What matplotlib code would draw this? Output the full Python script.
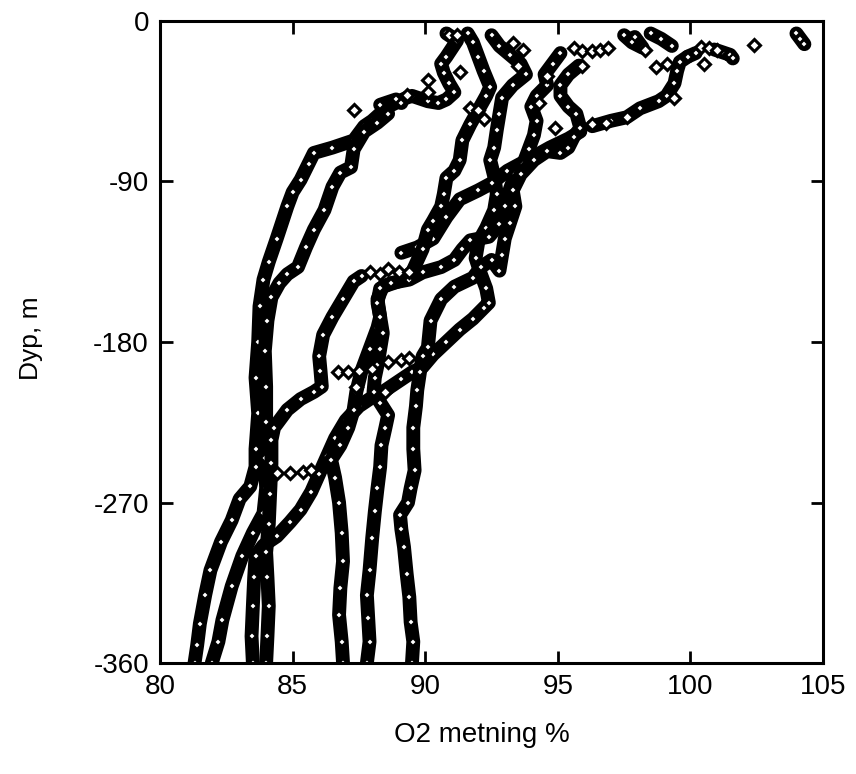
import numpy as np
import matplotlib
matplotlib.use("Agg")
import matplotlib.pyplot as plt

nan = np.nan

# O2 saturation (%) against depth (m) for seven CTD casts.
# nan splits a cast where the readings get sparse.
cast1_o2 = [81.3, 81.4, 81.5, 81.7, 81.9, 82.3, 82.7, 83.0, 83.4, 83.6, 83.6, 83.7, 83.6, 83.7,
            83.75, 83.9, 84.1, 84.4, 84.8, 85.0, 85.3, 85.6, 85.8, 86.5, 87.3, 87.7, 88.0, 88.6,
            89.3, 89.5, 90.1, 90.5, 90.8, 91.1, 90.9, 90.7, 90.6, 90.8, 91.2, 90.8]
cast1_dep = [-360, -350, -338, -322, -308, -292, -280, -268, -261, -250, -240, -220, -200, -180,
             -160, -145, -135, -122, -104, -96, -89, -80, -74, -71, -67, -59, -56, -48,
             -43, -42, -45, -46, -44, -40, -35, -29, -24, -20, -11, -7]

cast2_o2 = [81.95, 82.2, 82.35, 82.7, 83.1, 83.5, 83.9, 84.0, 83.95, 84.0, 84.0, 83.95, 84.05,
            84.2, 84.5, 84.8, 85.2, 85.5, 85.8, 86.2, 86.5, 86.8, 87.2, 87.3, 87.7, 88.2, 88.6,
            88.3, 88.9, 89.1]
cast2_dep = [-360, -348, -336, -317, -300, -287, -276, -262, -245, -225, -205, -185, -168,
             -155, -147, -142, -138, -127, -117, -106, -93, -85, -82, -72, -62, -57, -52,
             -47, -44, -46]

cast3_o2 = [83.5, 83.45, 83.5, 83.55, 83.6, 83.9, 84.4, 84.9, 85.3, 85.7, 86.0, 86.3, 86.6,
            87.0, 87.5, 88.0, 88.5, 89.1, 89.5, 89.9, 90.3, 90.8, 91.3, 91.8, 92.2, 92.4, 92.3,
            92.1, 91.9, 92.0, 92.3, 92.6, 92.7, 92.6, 92.45, 92.6, 92.7, 92.8, 92.9, 93.3, 93.8,
            93.6, 93.2, 92.8, 92.5]
cast3_dep = [-360, -345, -328, -312, -300, -294, -289, -281, -274, -264, -254, -244, -234,
             -224, -216, -211, -207, -201, -197, -194, -187, -180, -173, -167, -161, -158, -150,
             -142, -133, -124, -116, -106, -97, -87, -78, -71, -61, -52, -43, -36, -30,
             -24, -19, -14, -8]

cast4_o2 = [84.0, 84.05, 84.1, 84.05, 84.0, 84.1, 84.15, 84.2, 84.2, 84.3, 84.8, 85.3, 85.8,
            86.1, 86.05, 86.0, 86.15, 86.5, 86.9, 87.3, 87.6, nan,
            89.1, 89.7, 90.3, 90.8, 91.3, 92.0, 92.5, 93.1, 93.6, 94.1, 94.7, 95.4, 95.85, nan,
            96.3, 97.0, 97.6, 98.1, 98.8, 99.1, 99.4, 99.5, 99.6, 99.9]
cast4_dep = [-360, -345, -328, -312, -298, -282, -265, -248, -235, -228, -218, -212, -208,
             -205, -196, -188, -176, -166, -156, -146, -143, nan,
             -130, -127, -122, -110, -100, -95, -91, -84, -80, -76, -71, -66, -62, nan,
             -59, -56, -54, -49, -45, -42, -35, -28, -23, -20]

cast5_o2 = [86.9, 86.85, 86.75, 86.8, 86.9, 86.85, 86.75, 86.6, 86.45, 86.8, 87.1, 87.3, 87.4,
            87.6, 87.9, 88.2, 88.3, 88.2, 88.4, 89.0, 89.5, 89.9, 90.1, 90.3, 90.6, 90.7, 90.8,
            91.1, 91.3, 91.4, 91.7, 92.0, 92.3, 92.45, 92.2, 92.0, 91.8, 91.6]
cast5_dep = [-360, -348, -333, -318, -303, -287, -270, -256, -246, -238, -228, -218, -208,
             -196, -184, -172, -166, -156, -149, -146, -141, -128, -117, -112, -104, -97, -88,
             -84, -78, -67, -58, -50, -42, -37, -28, -20, -12, -7]

cast6_o2 = [87.8, 87.9, 87.85, 87.8, 87.9, 88.0, 88.1, 88.2, 88.3, 88.35, 88.5, 88.6, 88.3,
            88.05, 88.1, 88.2, 88.3, 88.4, 88.3, 88.2, 88.3, 88.7, 89.4, 89.9, 90.6, 91.1,
            91.4, 91.7, 92.4, 92.8, 93.0, 93.2, 93.4, 93.7, 93.9, 94.1, 94.2, 94.0, 94.2, 94.6,
            94.5, 94.8, 95.1]
cast6_dep = [-360, -348, -335, -322, -308, -290, -275, -262, -250, -238, -228, -221, -214,
             -208, -200, -193, -184, -175, -166, -158, -150, -147, -145, -141, -138, -134,
             -128, -123, -121, -114, -104, -94, -86, -80, -72, -64, -56, -48, -42, -36,
             -30, -24, -18]

cast7_o2 = [89.5, 89.55, 89.45, 89.4, 89.3, 89.2, 89.1, 89.05, 89.35, 89.45, 89.6, 89.55, 89.55,
            89.65, 89.7, 89.8, 89.9, 90.1, 90.2, 90.6, 91.1, 91.8, 92.1, 92.5, 92.8, 92.9, 93.0,
            93.2, 93.4, 93.3, 93.6, 94.1, 94.6, 95.1, 95.4, 95.6, 95.85, 95.7, 95.4, 95.1, 95.1,
            95.4, 95.8]
cast7_dep = [-360, -348, -337, -323, -310, -295, -285, -277, -270, -262, -252, -240, -228,
             -216, -207, -197, -188, -183, -168, -156, -149, -144, -138, -134, -140, -131, -122,
             -113, -104, -95, -86, -78, -73, -74, -71, -65, -60, -52, -48, -42, -36,
             -30, -25]

# short dense bursts right at the surface
surf_o2 = [104.0, 104.15, 104.3, nan, 97.5, 97.8, 98.2, 97.9, nan, 98.5, 98.9, 99.3, nan,
           100.9, 101.2, 101.5, 101.6, nan, 99.9, 100.2]
surf_dep = [-7, -10, -13, nan, -8, -12, -15, -9, nan, -7, -10, -14, nan,
            -16, -17.5, -19, -21, nan, -20, -18]

# isolated readings
loose_o2 = [84.4, 84.9, 85.4, 85.7,
            86.7, 87.1, 87.5, 88.0, 88.6, 89.1, 89.4, 87.4, 88.5,
            87.9, 88.3, 88.6, 89.0, 89.4,
            87.3, 89.3, 90.1, 90.1, 91.3, 91.7, 92.0, 92.2,
            93.3, 93.7, 93.5, 94.6, 94.3, 94.9, 95.6, 95.9, 96.3, 96.6, 96.9, 95.9,
            96.3, 96.8, 97.6, 98.3, 98.7, 99.1, 99.4,
            100.4, 100.7, 101.0, 100.5, 102.4, 90.9, 91.2]
loose_dep = [-253.5, -253.5, -253, -252,
             -197, -197, -196, -195, -191, -190, -189, -205, -208,
             -141, -142, -139, -141, -141,
             -50, -41.5, -33, -39.6, -28.6, -49, -50, -55,
             -12.5, -16, -25, -31, -46, -60, -15, -17, -17, -16, -15, -25,
             -58, -57, -54, -16, -26, -24, -43,
             -14.6, -15, -16.3, -24, -13.5, -8, -8]

x_ticks = [80, 85, 90, 95, 100, 105]
y_ticks = [0, -90, -180, -270, -360]

casts = [(cast1_o2, cast1_dep), (cast2_o2, cast2_dep), (cast3_o2, cast3_dep),
         (cast4_o2, cast4_dep), (cast5_o2, cast5_dep), (cast6_o2, cast6_dep),
         (cast7_o2, cast7_dep), (surf_o2, surf_dep)]

plt.rcParams['font.family'] = ['Liberation Sans', 'DejaVu Sans']
plt.rcParams['axes.unicode_minus'] = False

fig = plt.figure(figsize=(8.56, 7.74), dpi=100)
ax = fig.add_axes([0.187, 0.1434, 0.7744, 0.8295])

for o2, dep in casts:
    ax.plot(o2, dep, color='black', lw=10, solid_capstyle='round',
            solid_joinstyle='round', marker='D', ms=4.5, mfc='white', mec='black',
            mew=1.6, zorder=2)
ax.plot(loose_o2, loose_dep, ls='none', marker='D', ms=6, mfc='white', mec='black',
        mew=2.2, zorder=3)

ax.set_xlim(80, 105)
ax.set_ylim(-360, 0)
ax.set_xticks(x_ticks)
ax.set_yticks(y_ticks)
ax.set_yticklabels([str(v) for v in y_ticks])

for s in ax.spines.values():
    s.set_linewidth(2.2)
ax.tick_params(direction='in', length=9, width=2, top=True, right=True,
               labelsize=20, pad=8)

fig.text(0.563, 0.05, 'O2 metning %', ha='center', va='center', fontsize=20)
fig.text(0.036, 0.563, 'Dyp, m', ha='center', va='center', fontsize=19, rotation=90)

fig.savefig('out.png', dpi=100)
